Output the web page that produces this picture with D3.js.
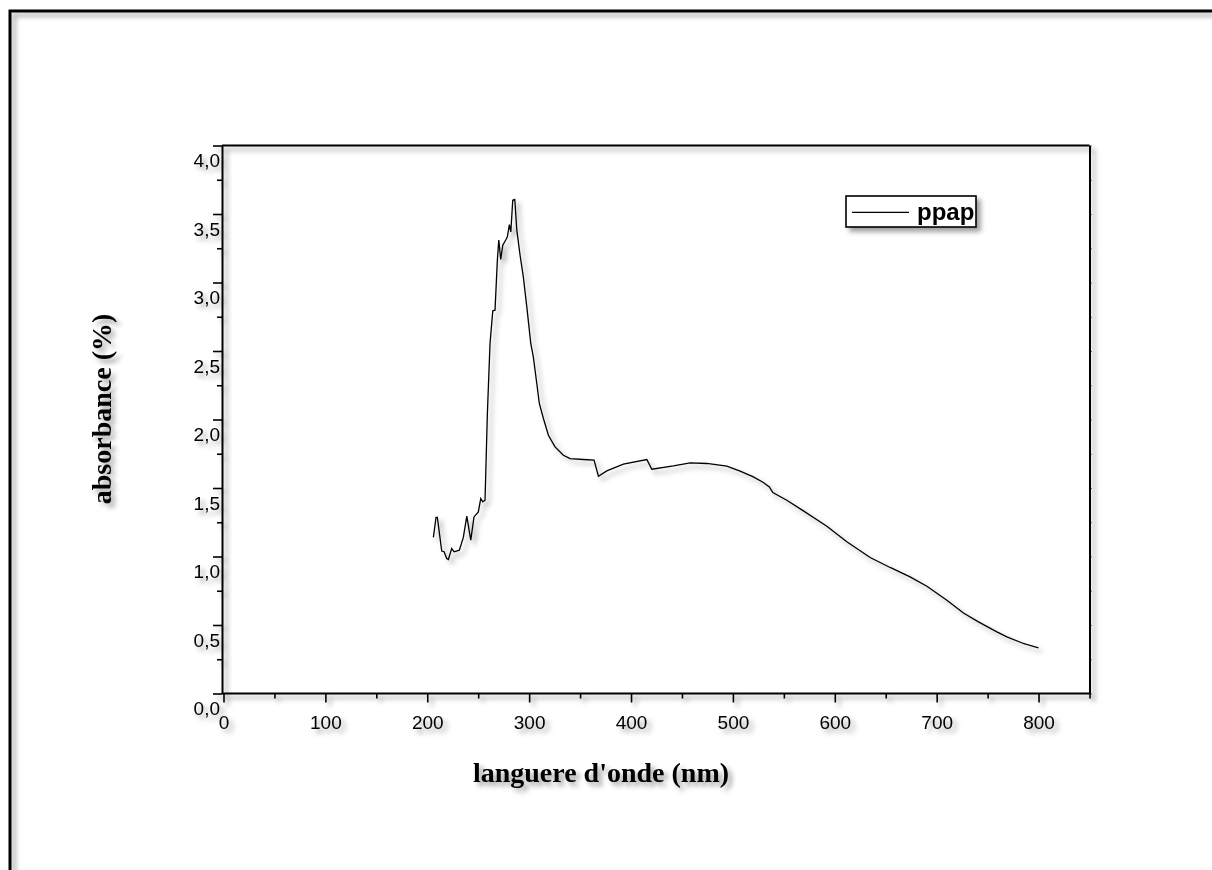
<!DOCTYPE html>
<html>
<head>
<meta charset="utf-8">
<script src="https://cdn.jsdelivr.net/npm/d3@7"></script>
<style>
  html, body { margin: 0; padding: 0; background: #fff; }
  svg { display: block; }
</style>
</head>
<body>
<svg id="chart" width="1212" height="870"></svg>
<script>
// UV-visible absorption spectrum of the ppap sample
const wavelength = [206.0, 208.6, 209.9, 214.2, 216.5, 219.1, 220.7, 224.0, 226.3, 231.5,
  235.4, 238.8, 242.7, 245.9, 250.1, 252.5, 254.5, 256.7, 259.0, 261.6,
  264.3, 266.5, 268.8, 270.2, 272.1, 274.1, 277.3, 278.6, 280.6, 282.0,
  283.9, 285.9, 287.9, 291.1, 294.3, 297.7, 301.6, 304.1, 307.5, 310.0,
  314.0, 318.9, 325.4, 333.6, 340.2, 353.2, 363.7, 368.0, 376.2, 392.5,
  415.5, 420.4, 441.6, 458.0, 474.4, 494.0, 507.1, 520.1, 529.9, 535.8,
  539.2, 552.9, 569.2, 592.2, 611.8, 634.7, 654.3, 673.9, 690.4, 710.0,
  726.3, 741.0, 759.1, 768.9, 785.2, 799.9];
const absorbance = [1.140, 1.285, 1.285, 1.040, 1.035, 0.985, 0.978, 1.058, 1.034, 1.046,
  1.139, 1.294, 1.119, 1.289, 1.326, 1.423, 1.399, 1.411, 2.044, 2.555,
  2.793, 2.798, 3.163, 3.309, 3.168, 3.272, 3.314, 3.333, 3.423, 3.369,
  3.601, 3.606, 3.382, 3.199, 3.041, 2.822, 2.555, 2.457, 2.263, 2.117,
  2.007, 1.885, 1.800, 1.739, 1.715, 1.708, 1.703, 1.586, 1.625, 1.674,
  1.708, 1.637, 1.661, 1.683, 1.679, 1.659, 1.623, 1.581, 1.540, 1.508,
  1.467, 1.411, 1.333, 1.221, 1.107, 0.993, 0.920, 0.851, 0.783, 0.681,
  0.588, 0.523, 0.450, 0.413, 0.365, 0.333];

const xMajorTicks = [0, 100, 200, 300, 400, 500, 600, 700, 800];
const xMinorTicks = [50, 150, 250, 350, 450, 550, 650, 750, 850];
const yMajorTicks = [0, 0.5, 1.0, 1.5, 2.0, 2.5, 3.0, 3.5, 4.0];
const yMinorTicks = [0.25, 0.75, 1.25, 1.75, 2.25, 2.75, 3.25, 3.75];
const seriesName = "ppap";
const xTitle = "languere d'onde (nm)";
const yTitle = "absorbance (%)";

const svg = d3.select("#chart");

// soft grey drop shadow used on every element of the figure
const defs = svg.append("defs");
const f = defs.append("filter").attr("id", "shadow")
  .attr("filterUnits", "userSpaceOnUse")
  .attr("x", -50).attr("y", -50).attr("width", 1400).attr("height", 1100);
f.append("feGaussianBlur").attr("in", "SourceAlpha").attr("stdDeviation", 2.6);
f.append("feOffset").attr("dx", 4).attr("dy", 4).attr("result", "blur");
f.append("feFlood").attr("flood-color", "#000").attr("flood-opacity", 0.38);
f.append("feComposite").attr("in2", "blur").attr("operator", "in");
const merge = f.append("feMerge");
merge.append("feMergeNode");
merge.append("feMergeNode").attr("in", "SourceGraphic");

const root = svg.append("g").attr("filter", "url(#shadow)");

// page frame
root.append("rect")
  .attr("x", 10).attr("y", 11).attr("width", 1400).attr("height", 1000)
  .attr("fill", "none").attr("stroke", "#000").attr("stroke-width", 3);

const x = d3.scaleLinear().domain([0, 850]).range([223.5, 1089.5]);
const y = d3.scaleLinear().domain([0, 4]).range([693.5, 145.5]);
const axisX = 222;

const comma = d3.formatLocale({ decimal: ",", thousands: ".", grouping: [3], currency: ["", ""] });
const fmtY = comma.format(".1f");

const tickFont = "'Liberation Sans', Arial, sans-serif";
const titleFont = "'Liberation Serif', 'Times New Roman', serif";

// frame of the plot: top and right edges
root.append("line")
  .attr("x1", axisX).attr("x2", x.range()[1]).attr("y1", y.range()[1]).attr("y2", y.range()[1])
  .attr("stroke", "#000").attr("stroke-width", 2);
const right = root.append("g").attr("transform", `translate(${x.range()[1]},0)`)
  .call(d3.axisRight(y).tickValues(yMajorTicks.concat(yMinorTicks)).tickSize(2).tickSizeOuter(0).tickFormat(""));
right.select(".domain").attr("stroke-width", 2);

// bottom axis
const gx = root.append("g").attr("transform", `translate(0,${y.range()[0]})`);
gx.call(d3.axisBottom(x).tickValues(xMinorTicks).tickSize(5).tickSizeOuter(0).tickFormat(""));
gx.select(".domain").remove();
const gx2 = root.append("g").attr("transform", `translate(0,${y.range()[0]})`);
gx2.call(d3.axisBottom(x).tickValues(xMajorTicks).tickSize(9).tickSizeOuter(0).tickFormat(d3.format("d")));
gx2.select(".domain").attr("d", `M${axisX},0H${x.range()[1]}`).attr("stroke-width", 2);
gx2.selectAll(".tick line").attr("stroke-width", 1.6);
gx.selectAll(".tick line").attr("stroke-width", 1.6);
gx2.selectAll(".tick text")
  .attr("y", 35).attr("dy", null)
  .attr("font-family", tickFont).attr("font-size", 19).attr("fill", "#000");

// left axis
const gy = root.append("g").attr("transform", `translate(${axisX},0)`);
gy.call(d3.axisLeft(y).tickValues(yMinorTicks).tickSize(5).tickSizeOuter(0).tickFormat(""));
gy.select(".domain").remove();
const gy2 = root.append("g").attr("transform", `translate(${axisX},0)`);
gy2.call(d3.axisLeft(y).tickValues(yMajorTicks).tickSize(9).tickSizeOuter(0).tickFormat(fmtY));
gy2.select(".domain").attr("stroke-width", 2);
gy2.selectAll(".tick line").attr("stroke-width", 1.6);
gy.selectAll(".tick line").attr("stroke-width", 1.6);
gy2.selectAll(".tick text")
  .attr("x", -2).attr("y", 21).attr("dy", null)
  .attr("font-family", tickFont).attr("font-size", 19).attr("fill", "#000");

// spectrum
const pts = wavelength.map((w, i) => [w, absorbance[i]]);
root.append("path")
  .datum(pts)
  .attr("fill", "none").attr("stroke", "#000").attr("stroke-width", 1.3)
  .attr("stroke-linejoin", "miter")
  .attr("d", d3.line().x(d => x(d[0])).y(d => y(d[1])));

// legend
const lg = root.append("g").attr("transform", "translate(846,196)");
lg.append("rect").attr("width", 130).attr("height", 31)
  .attr("fill", "#fff").attr("stroke", "#000").attr("stroke-width", 1.6);
lg.append("line").attr("x1", 6).attr("x2", 63).attr("y1", 16.3).attr("y2", 16.3)
  .attr("stroke", "#000").attr("stroke-width", 1.3);
lg.append("text").attr("x", 71).attr("y", 23.5)
  .attr("font-family", tickFont).attr("font-weight", "bold").attr("font-size", 24)
  .text(seriesName);

// axis titles
root.append("text")
  .attr("x", 601).attr("y", 782)
  .attr("text-anchor", "middle")
  .attr("font-family", titleFont)
  .attr("font-weight", "bold").attr("font-size", 28)
  .text(xTitle);
root.append("g").attr("transform", "translate(111,409)")
  .append("text")
  .attr("transform", "rotate(-90)")
  .attr("text-anchor", "middle")
  .attr("font-family", titleFont)
  .attr("font-weight", "bold").attr("font-size", 28)
  .text(yTitle);
</script>
</body>
</html>
